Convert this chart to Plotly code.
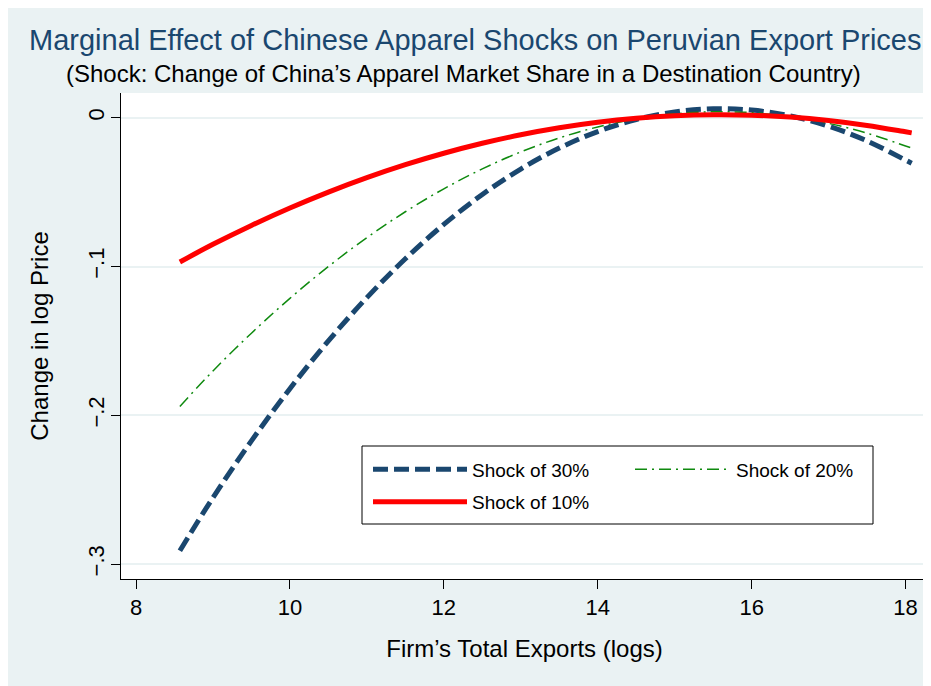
import plotly.graph_objects as go

# ---- data ----
firm_exports = [8.57, 9, 9.5, 10, 10.5, 11, 11.5, 12, 12.5, 13, 13.5, 14,
                14.5, 15, 15.5, 16, 16.5, 17, 17.5, 18, 18.08]
shock_30 = [-0.291, -0.2553, -0.2172, -0.1821, -0.1500, -0.1209, -0.0948, -0.0717,
            -0.0516, -0.0345, -0.0204, -0.0093, -0.0012, 0.0039, 0.0060, 0.0051,
            0.0012, -0.0057, -0.0156, -0.0285, -0.0306]
shock_20 = [-0.194, -0.1702, -0.1448, -0.1214, -0.1000, -0.0806, -0.0632, -0.0478,
            -0.0344, -0.0230, -0.0136, -0.0062, -0.0008, 0.0026, 0.0040, 0.0034,
            0.0008, -0.0038, -0.0104, -0.0190, -0.0204]
shock_10 = [-0.097, -0.0851, -0.0724, -0.0607, -0.0500, -0.0403, -0.0316, -0.0239,
            -0.0172, -0.0115, -0.0068, -0.0031, -0.0004, 0.0013, 0.0020, 0.0017,
            0.0004, -0.0019, -0.0052, -0.0095, -0.0102]

x_ticks = [8, 10, 12, 14, 16, 18]
y_ticks = [0, -0.1, -0.2, -0.3]
y_tick_labels = ["0", "\u2212.1", "\u2212.2", "\u2212.3"]

series_names = ["Shock of 30%", "Shock of 20%", "Shock of 10%"]

title_text = "Marginal Effect of Chinese Apparel Shocks on Peruvian Export Prices"
subtitle_text = "(Shock: Change of China\u2019s Apparel Market Share in a Destination Country)"
x_title = "Firm\u2019s Total Exports (logs)"
y_title = "Change in log Price"

# ---- styling ----
FONT = "Arial, 'Liberation Sans', sans-serif"
NAVY = "#1a476f"
GREEN = "#0f8a0f"
RED = "#ff0000"
BG = "#eaf2f3"

OFF = 8                      # page (body) margin of the html page
W, H = 931 - OFF, 686 - OFF
# plot area on screen: x 121..928, y 93..579
ML, MR, MT, MB = 121 - OFF, 3, 93 - OFF, H - (579 - OFF)
PW, PH = W - ML - MR, H - MT - MB


def px_x(p):
    """screen x pixel -> paper coordinate"""
    return (p - OFF - ML) / PW


def px_y(p):
    """screen y pixel -> paper coordinate"""
    return (H - MB - (p - OFF)) / PH


fig = go.Figure()
fig.add_trace(go.Scatter(
    x=firm_exports, y=shock_30, mode="lines", name=series_names[0],
    line=dict(color=NAVY, width=5, dash="15px,6px", shape="spline"),
    legend="legend"))
fig.add_trace(go.Scatter(
    x=firm_exports, y=shock_20, mode="lines", name=series_names[1],
    line=dict(color=GREEN, width=1.5, dash="12px,5px,2px,5px", shape="spline"),
    legend="legend2"))
fig.add_trace(go.Scatter(
    x=firm_exports, y=shock_10, mode="lines", name=series_names[2],
    line=dict(color=RED, width=5, shape="spline"),
    legend="legend3"))

leg_common = dict(bgcolor="rgba(0,0,0,0)", borderwidth=0,
                  font=dict(family=FONT, size=19, color="black"),
                  xanchor="left", yanchor="middle", orientation="v")

TICKFONT = dict(family=FONT, size=22, color="black")
AXTITLEFONT = dict(family=FONT, size=24, color="black")

fig.update_layout(
    width=W, height=H,
    margin=dict(l=ML, r=MR, t=MT, b=MB, pad=0),
    paper_bgcolor=BG, plot_bgcolor="white",
    font=dict(family=FONT, color="black"),
    showlegend=True,
    legend=dict(x=px_x(368), y=px_y(469.5), itemwidth=94, **leg_common),
    legend2=dict(x=px_x(630), y=px_y(469.5), itemwidth=96, **leg_common),
    legend3=dict(x=px_x(368), y=px_y(502), itemwidth=94, **leg_common),
    xaxis=dict(
        range=[7.805, 18.292], tickvals=x_ticks, ticktext=[str(v) for v in x_ticks],
        showgrid=False, zeroline=False, showline=True, linecolor="black", linewidth=1,
        ticks="outside", ticklen=9, tickcolor="black", tickwidth=1,
        tickfont=TICKFONT,
        title=dict(text=x_title, font=AXTITLEFONT, standoff=20),
        automargin=False,
    ),
    yaxis=dict(
        range=[-0.3100, 0.0166], tickvals=y_ticks, ticktext=y_tick_labels,
        tickangle=-90, ticklabelstandoff=-2,
        showgrid=True, gridcolor=BG, gridwidth=1.5, zeroline=False,
        showline=True, linecolor="black", linewidth=1,
        ticks="outside", ticklen=9, tickcolor="black", tickwidth=1,
        tickfont=TICKFONT,
        title=dict(text=y_title, font=AXTITLEFONT, standoff=28),
        automargin=False,
    ),
    shapes=[
        # legend frame
        dict(type="rect", xref="paper", yref="paper", x0=px_x(362), x1=px_x(873),
             y0=px_y(524), y1=px_y(446), fillcolor="white",
             line=dict(color="black", width=1), layer="above"),
    ],
    annotations=[
        dict(text=title_text, xref="paper", yref="paper", x=px_x(475), y=px_y(40),
             xanchor="center", yanchor="middle", showarrow=False,
             font=dict(family=FONT, size=29, color=NAVY)),
        dict(text=subtitle_text, xref="paper", yref="paper", x=px_x(463), y=px_y(74),
             xanchor="center", yanchor="middle", showarrow=False,
             font=dict(family=FONT, size=24, color="black")),
    ],
)

fig.write_html("out.html")
